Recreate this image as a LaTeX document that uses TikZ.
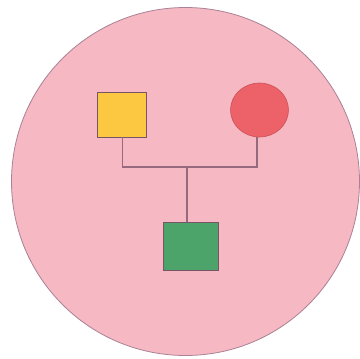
\documentclass[tikz,border=0pt]{standalone}
\usetikzlibrary{shapes.geometric}
\definecolor{bgpink}{RGB}{246,184,194}
\definecolor{rimcol}{RGB}{170,130,150}
\definecolor{yel}{RGB}{252,200,66}
\definecolor{redc}{RGB}{236,98,104}
\definecolor{grn}{RGB}{76,164,106}
\definecolor{linec}{RGB}{150,105,125}
\tikzset{
  sq/.style={draw=linec!80!black, line width=0.8pt, inner sep=0pt},
  conn/.style={draw=linec, line width=1.1pt},
}
\begin{document}
\begin{tikzpicture}[x=1pt,y=-1pt]
\useasboundingbox (0,0) rectangle (360,359);
\fill[white] (0,0) rectangle (360,359);
\draw[fill=bgpink, draw=rimcol, line width=0.8pt] (185.5,181.5) circle (174);
\node[sq, fill=yel, minimum width=49pt, minimum height=45pt] (f) at (121.5,114.5) {};
\node[ellipse, draw=redc!85!black, line width=0.6pt, fill=redc, inner sep=0pt, minimum width=58pt, minimum height=54pt] (m) at (259.5,110) {};
\node[sq, fill=grn, minimum width=55pt, minimum height=48pt] (c) at (190.5,246) {};
\coordinate (j) at (187,167);
\coordinate (fj) at (122.5,167);
\coordinate (mj) at (257,167);
\coordinate (mt) at (257,137);
\draw[conn] (f.south -| fj) -- (fj) -- (mj) -- (mt);
\draw[conn] (j) -- (j |- c.north);
\end{tikzpicture}
\end{document}
